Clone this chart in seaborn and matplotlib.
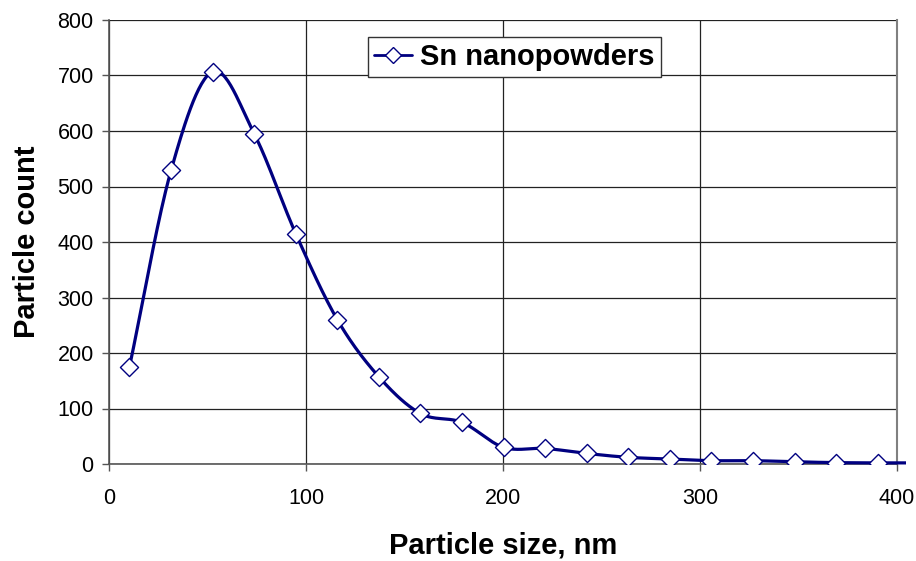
import numpy as np
import pandas as pd
import matplotlib
matplotlib.use("Agg")
import matplotlib.pyplot as plt
import seaborn as sns
from matplotlib.lines import Line2D
from matplotlib.patches import Rectangle

# Particle size distribution values
particle_size = [10.4, 31.5, 52.6, 73.7, 94.8, 115.9, 137.0, 158.1, 179.2, 200.3,
                 221.4, 242.5, 263.6, 284.7, 305.8, 326.9, 348.0, 369.1, 390.2, 411.3]
particle_count = [175, 529, 707, 595, 415, 260, 157, 91, 75, 30,
                  28, 19, 12, 9, 6, 6, 4, 2.5, 2, 2]
series_name = "Sn nanopowders"

x_ticks = [0, 100, 200, 300, 400]
y_ticks = [0, 100, 200, 300, 400, 500, 600, 700, 800]

navy = "#000080"

sns.set_style("white")
plt.rcParams["font.family"] = ["Liberation Sans", "DejaVu Sans"]
plt.rcParams["text.color"] = "black"
plt.rcParams["axes.labelcolor"] = "black"
plt.rcParams["xtick.color"] = "black"
plt.rcParams["ytick.color"] = "black"


def smooth_curve(xs, ys, n=30):
    # Catmull-Rom style smoothing, like a spreadsheet "smoothed line"
    xs = np.asarray(xs, float)
    ys = np.asarray(ys, float)
    px = np.concatenate([[2 * xs[0] - xs[1]], xs, [2 * xs[-1] - xs[-2]]])
    py = np.concatenate([[2 * ys[0] - ys[1]], ys, [2 * ys[-1] - ys[-2]]])
    out_x, out_y = [], []
    t = np.linspace(0, 1, n, endpoint=False)
    for i in range(1, len(px) - 2):
        for arr, out in ((px, out_x), (py, out_y)):
            p0, p1, p2, p3 = arr[i - 1], arr[i], arr[i + 1], arr[i + 2]
            seg = 0.5 * ((2 * p1) + (-p0 + p2) * t
                         + (2 * p0 - 5 * p1 + 4 * p2 - p3) * t ** 2
                         + (-p0 + 3 * p1 - 3 * p2 + p3) * t ** 3)
            out.extend(seg)
    out_x.append(xs[-1])
    out_y.append(ys[-1])
    return np.array(out_x), np.array(out_y)


df = pd.DataFrame({"size": particle_size, "count": particle_count})
sx, sy = smooth_curve(df["size"], df["count"])
curve = pd.DataFrame({"size": sx, "count": sy})

fig = plt.figure(figsize=(9.16, 5.61), dpi=100)
ax = fig.add_axes([109 / 916, (561 - 464) / 561, (897 - 109) / 916, (464 - 20) / 561])

sns.lineplot(data=curve, x="size", y="count", sort=False, color=navy, lw=2.3,
             ax=ax, zorder=3)
# the smoothed line runs a little past the plot area, as in the original
line = ax.lines[-1]
clip = Rectangle((0, -20), 404.5, 840, transform=ax.transData, visible=False)
ax.add_patch(clip)
line.set_clip_on(True)
line.set_clip_path(clip)

sns.scatterplot(data=df, x="size", y="count", marker="D", s=85, facecolor="white",
                edgecolor=navy, linewidth=1.0, ax=ax, zorder=4)

ax.set_xlim(0, 400)
ax.set_ylim(0, 800)
ax.set_xticks(x_ticks)
ax.set_yticks(y_ticks)
ax.grid(True, color="#222222", lw=0.9)
ax.set_axisbelow(True)
ax.spines["top"].set_visible(False)
ax.spines["right"].set_color("#808080")
ax.spines["right"].set_linewidth(1.5)
for side in ["left", "bottom"]:
    ax.spines[side].set_color("#555555")
    ax.spines[side].set_linewidth(1.2)
ax.tick_params(axis="both", which="both", direction="out", length=5, width=1,
               color="#555555", labelsize=15.5)
ax.tick_params(axis="x", pad=12)
ax.tick_params(axis="y", pad=6)
ax.tick_params(bottom=True, left=True)

ax.set_xlabel("Particle size, nm", fontsize=21, fontweight="bold")
ax.xaxis.label.set_va("baseline")
ax.xaxis.set_label_coords(0.5, (464 - 553) / 444)
ax.set_ylabel("Particle count", fontsize=21, fontweight="bold")
ax.yaxis.label.set_va("baseline")
ax.yaxis.set_label_coords((35 - 109) / 788, 0.5)

handle = Line2D([0], [0], color=navy, lw=2, marker="D", markersize=8,
                markerfacecolor="white", markeredgecolor=navy, markeredgewidth=1)
leg = ax.legend([handle], [series_name], loc="upper left",
                bbox_to_anchor=((368 - 109) / 788, (464 - 37) / 444),
                frameon=True, fancybox=False, framealpha=1, edgecolor="#333333",
                prop={"size": 21, "weight": "bold"}, handlelength=1.3,
                handletextpad=0.3, borderpad=0.2, borderaxespad=0)
leg.get_frame().set_linewidth(1.0)

fig.savefig("out.png", dpi=100)
